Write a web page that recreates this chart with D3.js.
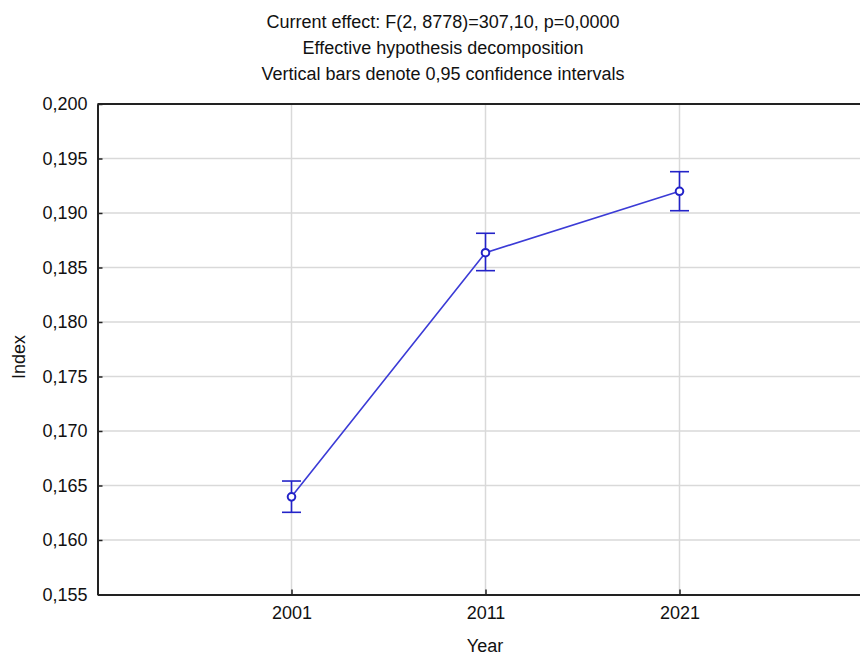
<!DOCTYPE html>
<html>
<head>
<meta charset="utf-8">
<script src="https://cdn.jsdelivr.net/npm/d3@7"></script>
<style>
html,body{margin:0;padding:0;background:#fff;}
svg{display:block;font-family:"Liberation Sans",Arial,sans-serif;}
</style>
</head>
<body>
<svg id="chart" width="860" height="656"></svg>
<script>
const titleLines = ["Current effect: F(2, 8778)=307,10, p=0,0000", "Effective hypothesis decomposition", "Vertical bars denote 0,95 confidence intervals"];
const years = ["2001", "2011", "2021"];
const means = [0.16396, 0.18636, 0.19199];
const lower = [0.16254, 0.18471, 0.19021];
const upper = [0.16541, 0.18814, 0.19379];
const yTicks = [0.155, 0.160, 0.165, 0.170, 0.175, 0.180, 0.185, 0.190, 0.195, 0.200];
const xTitle = "Year";
const yTitle = "Index";

(function () {
const svg = d3.select("#chart");
const pL = 97.5, pR = 873.5, pT = 104, pB = 594.5;
const FS = 18;

const x = d3.scalePoint().domain(years).range([pL, pR]).padding(1);
const y = d3.scaleLinear().domain([0.155, 0.200]).range([pB, pT]);
const fmt = v => d3.format(".3f")(v).replace(".", ",");

// title
svg.append("g").selectAll("text").data(titleLines).join("text")
  .attr("x", 443).attr("y", (d, i) => 28 + i * 26)
  .attr("text-anchor", "middle").attr("font-size", FS).attr("fill", "#111")
  .text(d => d);

// grid
svg.append("g").selectAll("line").data(yTicks.slice(1, -1)).join("line")
  .attr("x1", pL).attr("x2", 860).attr("y1", d => y(d)).attr("y2", d => y(d))
  .attr("stroke", "#d9d9d9").attr("stroke-width", 1.5);
svg.append("g").selectAll("line").data(years).join("line")
  .attr("x1", d => x(d)).attr("x2", d => x(d)).attr("y1", pT).attr("y2", pB)
  .attr("stroke", "#d9d9d9").attr("stroke-width", 1.5);

// axes
const yAxis = d3.axisLeft(y).tickValues(yTicks).tickFormat(fmt).tickSizeInner(-5).tickSizeOuter(0).tickPadding(10);
const yg = svg.append("g").attr("transform", `translate(${pL},0)`).call(yAxis);
yg.select(".domain").attr("stroke", "#222").attr("stroke-width", 2);
yg.selectAll(".tick line").attr("stroke", "#222").attr("stroke-width", 1.5);
yg.selectAll(".tick text").attr("font-size", FS).attr("fill", "#111").attr("font-family", "Liberation Sans, Arial, sans-serif");

const xAxis = d3.axisBottom(x).tickSizeInner(-5).tickSizeOuter(0).tickPadding(12);
const xg = svg.append("g").attr("transform", `translate(0,${pB})`).call(xAxis);
xg.select(".domain").attr("stroke", "#222").attr("stroke-width", 2);
xg.selectAll(".tick line").attr("stroke", "#222").attr("stroke-width", 1.5);
xg.selectAll(".tick text").attr("font-size", FS).attr("fill", "#111").attr("font-family", "Liberation Sans, Arial, sans-serif");

// top border
svg.append("line").attr("x1", pL).attr("x2", 860).attr("y1", pT).attr("y2", pT)
  .attr("stroke", "#222").attr("stroke-width", 2);

// axis titles
svg.append("text").attr("x", 485).attr("y", 652).attr("text-anchor", "middle")
  .attr("font-size", FS).attr("fill", "#111").text(xTitle);
svg.append("text").attr("transform", "translate(25,357) rotate(-90)").attr("text-anchor", "middle")
  .attr("font-size", FS).attr("fill", "#111").text(yTitle);

// data
const data = years.map((yr, i) => ({yr, m: means[i], lo: lower[i], hi: upper[i]}));
const blue = "#2323c8";
svg.append("path").datum(data)
  .attr("d", d3.line().x(d => x(d.yr)).y(d => y(d.m)))
  .attr("fill", "none").attr("stroke", "#3b3bd6").attr("stroke-width", 1.6);

const eb = svg.append("g").selectAll("g").data(data).join("g");
eb.append("line").attr("x1", d => x(d.yr)).attr("x2", d => x(d.yr))
  .attr("y1", d => y(d.lo)).attr("y2", d => y(d.hi)).attr("stroke", blue).attr("stroke-width", 1.6);
eb.append("line").attr("x1", d => x(d.yr) - 9.5).attr("x2", d => x(d.yr) + 9.5)
  .attr("y1", d => y(d.hi)).attr("y2", d => y(d.hi)).attr("stroke", blue).attr("stroke-width", 1.6);
eb.append("line").attr("x1", d => x(d.yr) - 9.5).attr("x2", d => x(d.yr) + 9.5)
  .attr("y1", d => y(d.lo)).attr("y2", d => y(d.lo)).attr("stroke", blue).attr("stroke-width", 1.6);
eb.append("circle").attr("cx", d => x(d.yr)).attr("cy", d => y(d.m)).attr("r", 3.8)
  .attr("fill", "#fff").attr("stroke", blue).attr("stroke-width", 2);
})();
</script>
</body>
</html>
